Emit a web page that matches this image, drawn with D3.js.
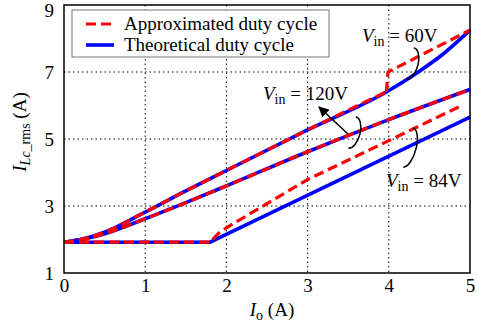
<!DOCTYPE html>
<html>
<head>
<meta charset="utf-8">
<script src="https://cdn.jsdelivr.net/npm/d3@7"></script>
<style>
  body { margin: 0; background: #fff; }
  svg text { font-family: "Liberation Serif", "Times New Roman", serif !important; }
</style>
</head>
<body>
<div id="chart"></div>
<script>
// values
const xTicks = [0, 1, 2, 3, 4, 5];
const yTicks = [1, 3, 5, 7, 9];

// Vin = 60V
const io60 = [0, 0.2, 0.5, 1, 1.5, 2, 3, 3.98, 4.35, 4.65, 5];
const th60 = [1.92, 2.0, 2.22, 2.82, 3.45, 4.06, 5.27, 6.42, 6.98, 7.5, 8.25];
const ioAp60 = [0, 0.2, 0.5, 1, 1.5, 2, 3, 3.97];
const ap60 = [1.92, 2.0, 2.22, 2.82, 3.45, 4.06, 5.27, 6.41];
const ioAp60b = [3.97, 3.99, 5];
const ap60b = [6.41, 7.0, 8.25];

// Vin = 120V
const io120 = [0, 0.2, 0.5, 1, 1.5, 2, 3, 4, 5];
const th120 = [1.92, 1.99, 2.17, 2.62, 3.1, 3.6, 4.62, 5.58, 6.48];
const ap120 = [1.92, 1.99, 2.17, 2.62, 3.1, 3.6, 4.62, 5.58, 6.48];

// Vin = 84V
const io84 = [0, 1.8, 5];
const th84 = [1.92, 1.92, 5.65];
const ioAp84 = [0, 1.8, 1.9, 2.0, 3, 4, 4.9];
const ap84 = [1.92, 1.92, 2.18, 2.35, 3.79, 4.95, 6.0];

const W = 477, H = 325;
const margin = {top: 5, right: 7, bottom: 52, left: 64};
const width = W - margin.left - margin.right;
const height = H - margin.top - margin.bottom;

const svg = d3.select('#chart').append('svg')
  .attr('width', W).attr('height', H);
const g = svg.append('g')
  .attr('transform', 'translate(' + margin.left + ',' + margin.top + ')');

const x = d3.scaleLinear().domain([0, 5]).range([0, width]);
const y = d3.scaleLinear().domain([1, 9]).range([height, 0]);

// dotted grid
g.append('g').selectAll('line').data(xTicks.slice(1, -1)).enter().append('line')
  .attr('x1', d => x(d)).attr('x2', d => x(d))
  .attr('y1', 0).attr('y2', height)
  .attr('stroke', '#000').attr('stroke-width', 1).attr('stroke-dasharray', '1.5,3');
g.append('g').selectAll('line').data(yTicks.slice(1, -1)).enter().append('line')
  .attr('y1', d => y(d)).attr('y2', d => y(d))
  .attr('x1', 0).attr('x2', width)
  .attr('stroke', '#000').attr('stroke-width', 1).attr('stroke-dasharray', '1.5,3');

// axes
const xAxis = g.append('g')
  .attr('transform', 'translate(0,' + height + ')')
  .call(d3.axisBottom(x).tickValues(xTicks).tickFormat(d3.format('d')).tickSize(0).tickPadding(6));
const yAxis = g.append('g')
  .call(d3.axisLeft(y).tickValues(yTicks).tickFormat(d3.format('d')).tickSize(0).tickPadding(10));
[xAxis, yAxis].forEach(a => {
  a.select('.domain').remove();
  a.selectAll('text').attr('font-size', 19).attr('fill', '#000');
});
yAxis.selectAll('.tick').filter(d => d === 9).select('text').attr('dy', '0.6em');

const line = d3.line().x(d => x(d[0])).y(d => y(d[1]));
const smooth = d3.line().x(d => x(d[0])).y(d => y(d[1])).curve(d3.curveMonotoneX);
const zip = (a, b) => a.map((v, i) => [v, b[i]]);

const blue = '#0000ff', red = '#ff0000';

function draw(gen, pts, color, dashed) {
  g.append('path').datum(pts)
    .attr('d', gen)
    .attr('fill', 'none')
    .attr('stroke', color)
    .attr('stroke-width', dashed ? 3.2 : 3.6)
    .attr('stroke-dasharray', dashed ? '10,5' : null)
    .attr('stroke-linejoin', 'round');
}

draw(smooth, zip(io60, th60), blue, false);
draw(smooth, zip(io120, th120), blue, false);
draw(line, zip(io84, th84), blue, false);
draw(smooth, zip(ioAp60, ap60), red, true);
draw(line, zip(ioAp60b, ap60b), red, true);
draw(smooth, zip(io120, ap120), red, true);
draw(line, zip(ioAp84, ap84), red, true);

// frame
g.append('rect').attr('width', width).attr('height', height)
  .attr('fill', 'none').attr('stroke', '#000').attr('stroke-width', 1.5);

// legend
const leg = g.append('g').attr('transform', 'translate(8,5)');
leg.append('rect').attr('width', 257).attr('height', 47)
  .attr('fill', '#fff').attr('stroke', '#777').attr('stroke-width', 1);
const legItems = [
  {label: 'Approximated duty cycle', color: red, dashed: true},
  {label: 'Theoretical duty cycle', color: blue, dashed: false}
];
legItems.forEach((d, i) => {
  const yy = 14 + i * 21;
  leg.append('line').attr('x1', 14).attr('x2', 42).attr('y1', yy).attr('y2', yy)
    .attr('stroke', d.color).attr('stroke-width', d.dashed ? 3.2 : 3.6)
    .attr('stroke-dasharray', d.dashed ? '10,5' : null);
  leg.append('text').attr('x', 52).attr('y', yy + 6)
    .attr('font-size', 19).text(d.label);
});

// annotations
function vinLabel(px, py, val) {
  const t = svg.append('text').attr('x', px).attr('y', py).attr('font-size', 19);
  t.append('tspan').attr('font-style', 'italic').text('V');
  t.append('tspan').attr('font-size', 14).attr('dy', 4).text('in');
  t.append('tspan').attr('dy', -4).text(' = ' + val);
}
vinLabel(362, 42, '60V');
vinLabel(263, 100, '120V');
vinLabel(386, 187, '84V');

function loop(cx, cy, rx, ry, rot) {
  svg.append('path')
    .attr('d', 'M' + (cx - rx * 0.3) + ',' + (cy - ry) +
      ' A' + rx + ',' + ry + ' 0 1,1 ' + (cx - rx * 0.2) + ',' + (cy + ry))
    .attr('transform', 'rotate(' + rot + ',' + cx + ',' + cy + ')')
    .attr('fill', 'none').attr('stroke', '#000').attr('stroke-width', 1.5);
}
loop(412, 64, 8, 16, 15);
loop(354, 133, 8, 16, 15);
loop(410, 148, 8, 20, 15);

// arrow for 120V
svg.append('defs').append('marker').attr('id', 'ah')
  .attr('viewBox', '0 0 10 10').attr('refX', 9).attr('refY', 5)
  .attr('markerWidth', 7).attr('markerHeight', 7).attr('orient', 'auto')
  .append('path').attr('d', 'M0,0 L10,5 L0,10 z').attr('fill', '#000');
svg.append('line').attr('x1', 348).attr('y1', 134).attr('x2', 319).attr('y2', 107)
  .attr('stroke', '#000').attr('stroke-width', 1.5).attr('marker-end', 'url(#ah)');

// axis titles
const xt = svg.append('text').attr('x', 272).attr('y', 316)
  .attr('text-anchor', 'middle').attr('font-size', 19);
xt.append('tspan').attr('font-style', 'italic').text('I');
xt.append('tspan').attr('font-size', 14).attr('dy', 4).text('o');
xt.append('tspan').attr('dy', -4).text(' (A)');

const yt = svg.append('text')
  .attr('transform', 'translate(26,132) rotate(-90)')
  .attr('text-anchor', 'middle').attr('font-size', 19);
yt.append('tspan').attr('font-style', 'italic').text('I');
yt.append('tspan').attr('font-size', 14).attr('dy', 4).attr('font-style', 'italic').text('Lc');
yt.append('tspan').attr('font-size', 14).text('_rms');
yt.append('tspan').attr('dy', -4).text(' (A)');
</script>
</body>
</html>
